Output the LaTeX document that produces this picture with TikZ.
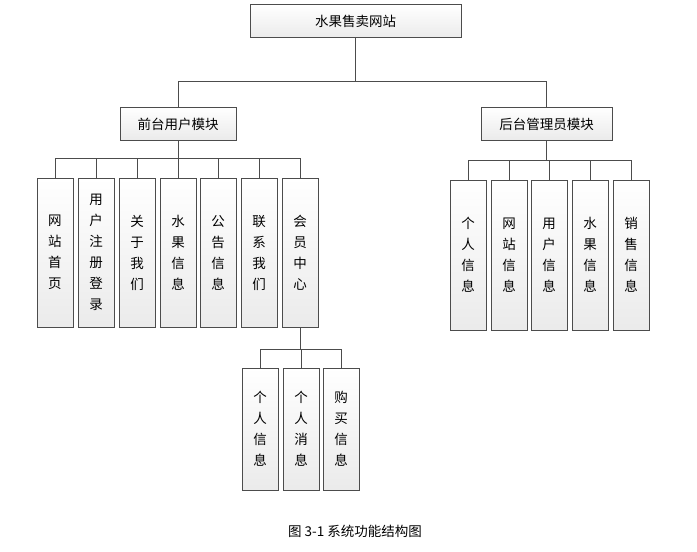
\documentclass[tikz,border=0pt]{standalone}
\usepackage{fontspec}
\setmainfont{Noto Sans CJK SC}
\usetikzlibrary{positioning,shadows}
\tikzset{
  box/.style={draw=black!70, line width=0.6pt, top color=white, bottom color=black!8,
    drop shadow={shadow xshift=0.8pt, shadow yshift=-0.8pt, fill=black!40},
    font=\fontsize{13.5}{16}\selectfont, inner sep=2pt},
  hbox/.style={box, minimum height=33, text depth=0pt},
  vbox/.style={box, minimum width=36, align=center, font=\fontsize{13.5}{21}\selectfont},
  link/.style={draw=black!70, line width=0.6pt}
}
\begin{document}
\begin{tikzpicture}[x=1pt,y=-1pt]
        \useasboundingbox (0,0) rectangle (697,552);
        % Top level
        \node[hbox, minimum width=211] (root) at (355.5,21) {水果售卖网站};
        \node[hbox, minimum width=116] (front) at (178,123.5) {前台用户模块};
        \node[hbox, minimum width=131] (back) at (546.5,123.5) {后台管理员模块};
        % Front children
        \node[vbox, minimum height=149] (f1) at (55,252.5) {网\\站\\首\\页};
        \node[vbox, minimum height=149] (f2) at (96,252.5) {用\\户\\注\\册\\登\\录};
        \node[vbox, minimum height=149] (f3) at (137,252.5) {关\\于\\我\\们};
        \node[vbox, minimum height=149] (f4) at (178,252.5) {水\\果\\信\\息};
        \node[vbox, minimum height=149] (f5) at (218,252.5) {公\\告\\信\\息};
        \node[vbox, minimum height=149] (f6) at (259,252.5) {联\\系\\我\\们};
        \node[vbox, minimum height=149] (f7) at (300,252.5) {会\\员\\中\\心};
        % Back children
        \node[vbox, minimum height=150] (b1) at (468,255) {个\\人\\信\\息};
        \node[vbox, minimum height=150] (b2) at (509,255) {网\\站\\信\\息};
        \node[vbox, minimum height=150] (b3) at (549,255) {用\\户\\信\\息};
        \node[vbox, minimum height=150] (b4) at (590,255) {水\\果\\信\\息};
        \node[vbox, minimum height=150] (b5) at (631,255) {销\\售\\信\\息};
        % Member children
        \node[vbox, minimum height=122] (m1) at (260,429) {个\\人\\信\\息};
        \node[vbox, minimum height=122] (m2) at (301,429) {个\\人\\消\\息};
        \node[vbox, minimum height=122] (m3) at (341,429) {购\\买\\信\\息};
        % Connectors
        \draw[link] (root.south) -- ++(0,43) coordinate (rj);
        \draw[link] (front.north) |- (rj) -| (back.north);
        \draw[link] (front.south) -- ++(0,18) coordinate (fj);
        \foreach \n in {f1,f2,f3,f4,f5,f6,f7}
          \draw[link] (fj) -| (\n.north);
        \draw[link] (back.south) -- ++(0,20) coordinate (bj);
        \foreach \n in {b1,b2,b3,b4,b5}
          \draw[link] (bj) -| (\n.north);
        \draw[link] (f7.south) -- ++(0,22) coordinate (mj);
        \foreach \n in {m1,m2,m3}
          \draw[link] (mj) -| (\n.north);
        % Caption
        \node[font=\fontsize{13.5}{16}\selectfont] (cap) at (355,531) {图 3-1 系统功能结构图};
\end{tikzpicture}
\end{document}
